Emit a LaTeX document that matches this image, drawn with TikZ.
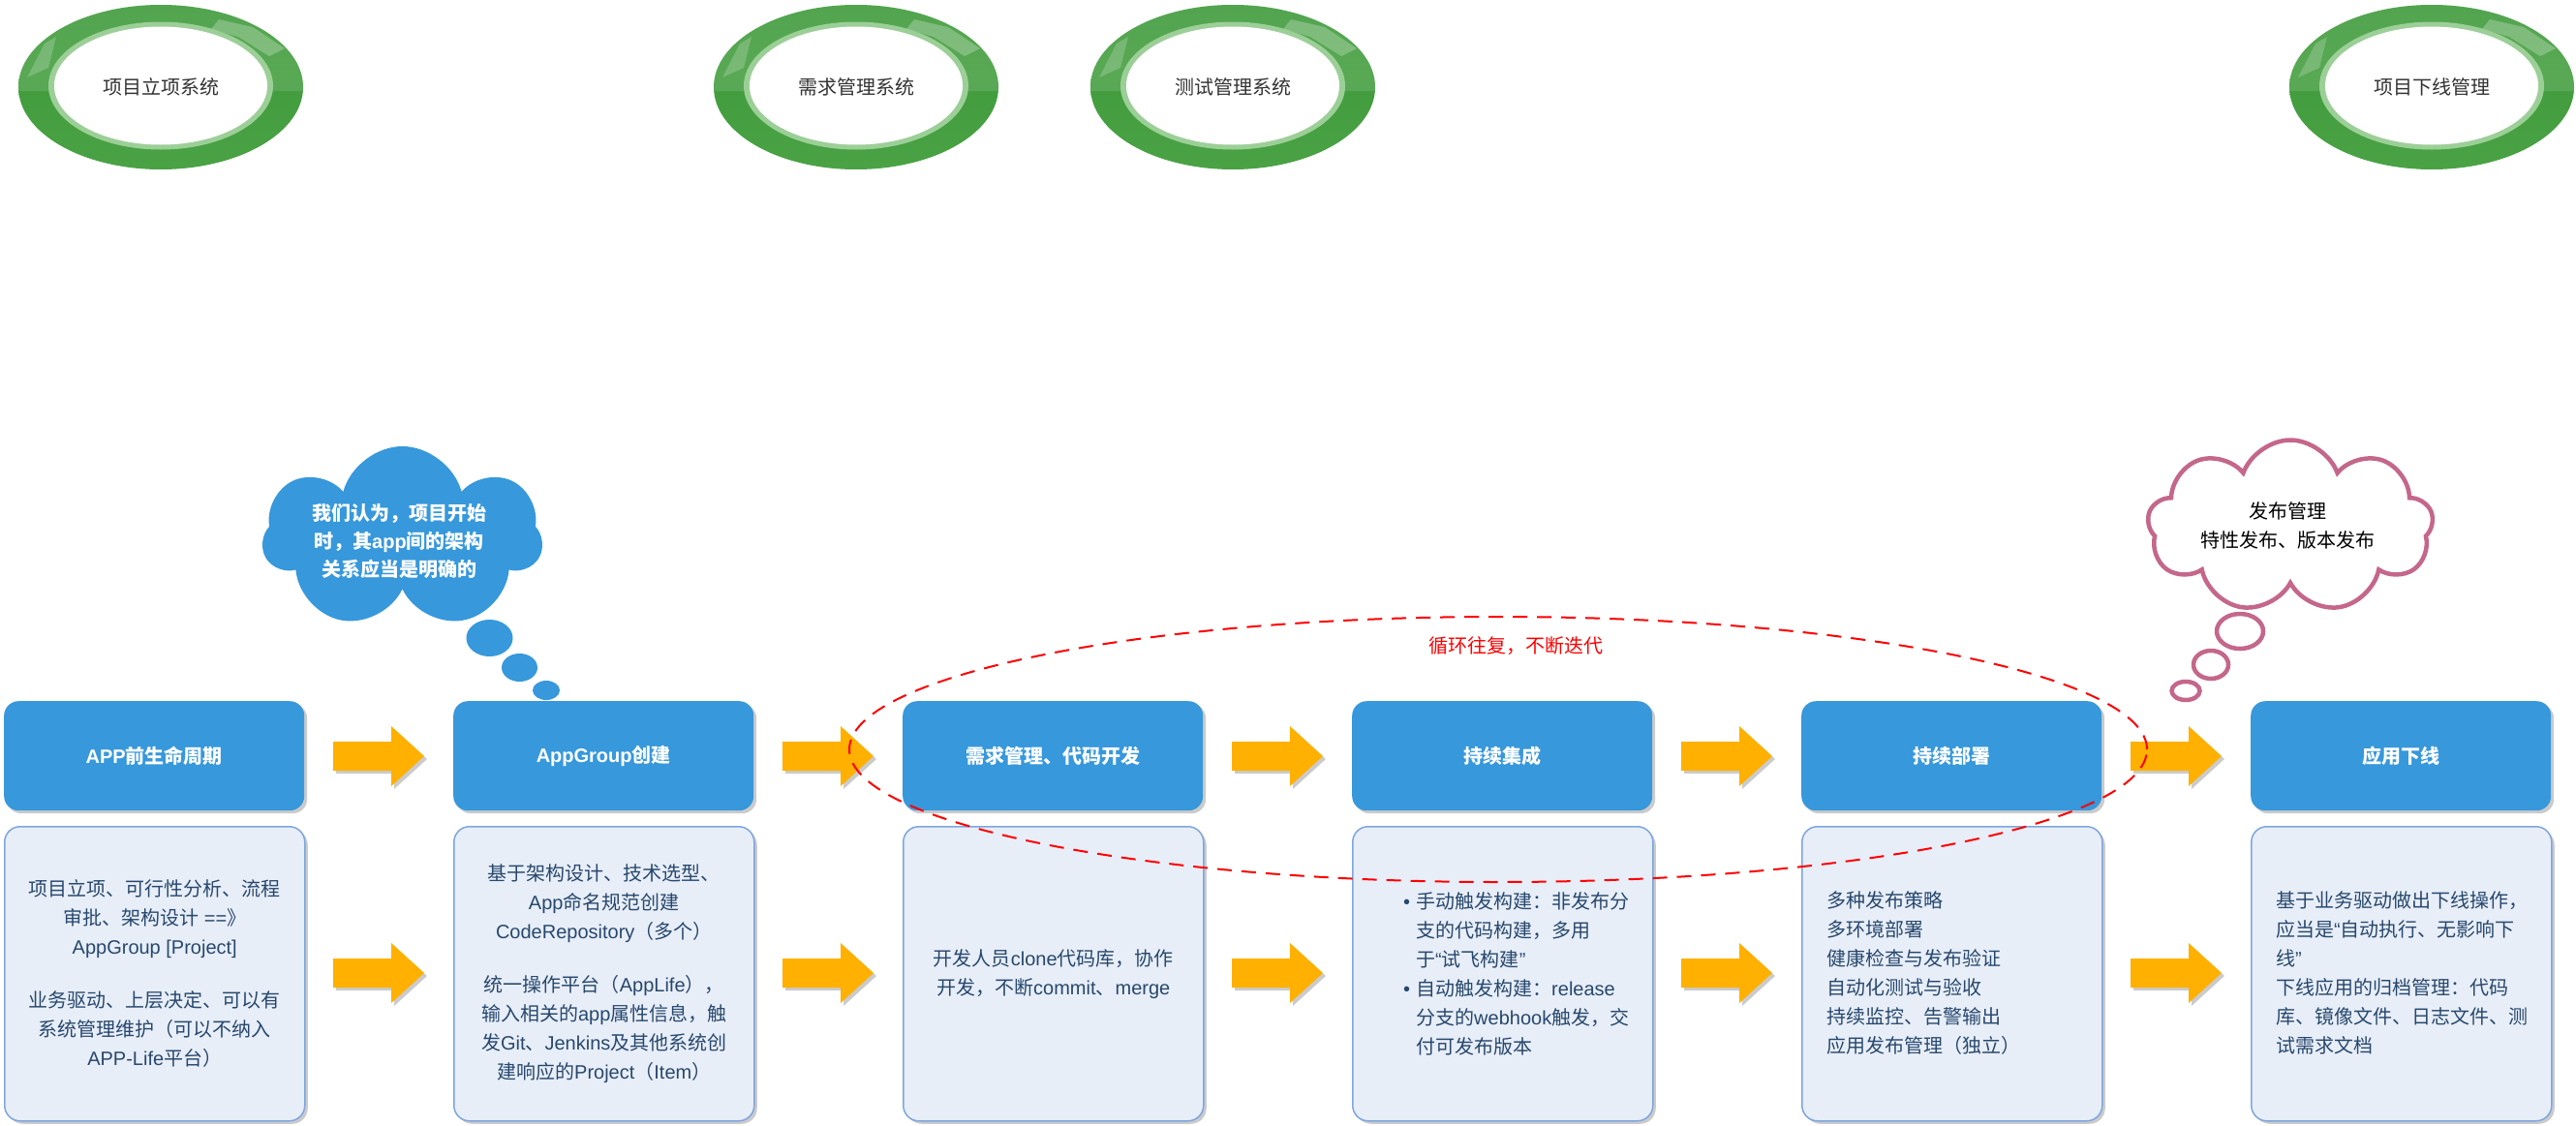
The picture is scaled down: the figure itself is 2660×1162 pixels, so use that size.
\documentclass[tikz,border=0pt]{standalone}
\usepackage{fontspec}
\setmainfont{Liberation Sans}
\newfontfamily\latfont{Liberation Sans}
\newfontfamily\cjkfont{Noto Sans CJK SC}
\usetikzlibrary{shapes.symbols,shadows}
% automatic switch between Latin and CJK fonts
\XeTeXinterchartokenstate=1
\newXeTeXintercharclass\CJKclass
\newcount\cjkcnt
\def\setcjkrange#1#2{\cjkcnt=#1\relax\loop\XeTeXcharclass\cjkcnt=\CJKclass\relax\ifnum\cjkcnt<#2\relax\advance\cjkcnt by 1\relax\repeat}
\setcjkrange{"3000}{"303F}
\setcjkrange{"4E00}{"9FFF}
\setcjkrange{"FF00}{"FFEF}
\XeTeXinterchartoks 0 \CJKclass = {\cjkfont}
\XeTeXinterchartoks 4095 \CJKclass = {\cjkfont}
\XeTeXinterchartoks \CJKclass 0 = {\latfont}
\XeTeXinterchartoks \CJKclass 4095 = {\latfont}

\definecolor{hdrblue}{HTML}{3798DB}
\definecolor{bodyfill}{HTML}{E8EEF8}
\definecolor{bodyline}{HTML}{7EA6E0}
\definecolor{bodytext}{HTML}{27486E}
\definecolor{arrowc}{HTML}{FFB000}
\definecolor{shadowc}{HTML}{CBCBCB}
\definecolor{pinkc}{HTML}{C4678A}
\definecolor{ringtop}{HTML}{3B9837}
\definecolor{ringmid}{HTML}{248822}
\definecolor{ringbot}{HTML}{4AA245}
\definecolor{ringlight}{HTML}{9CCF97}
\definecolor{ringtxt}{HTML}{333333}

\begin{document}
\begin{tikzpicture}[x=1pt,y=-1pt,
  hdr/.style={anchor=north west, fill=hdrblue, rounded corners=15pt,
    minimum width=310pt, minimum height=113pt, inner sep=0pt, text=white,
    font=\fontsize{20}{24}\selectfont\bfseries,
    drop shadow={shadow xshift=3pt, shadow yshift=-3pt, fill=shadowc, opacity=1}},
  bodybox/.style={anchor=north west, fill=bodyfill, draw=bodyline, line width=1.5pt,
    rounded corners=16pt, minimum width=310pt, minimum height=304pt, inner sep=0pt,
    drop shadow={shadow xshift=3pt, shadow yshift=-3pt, fill=shadowc, opacity=1}},
  bodytxt/.style={text=bodytext, font=\fontsize{20}{30}\selectfont, inner sep=0pt},
  pics/greenring/.style={code={
    \shade[top color=ringtop, middle color=ringmid, bottom color=ringbot]
      (0,0) ellipse [x radius=147pt, y radius=85pt];
    \begin{scope}
      \clip (0,0) ellipse [x radius=147pt, y radius=85pt];
      \fill[white, opacity=0.12, even odd rule] (-150,-90) rectangle (150,4)
        (0,-1.5) ellipse [x radius=116pt, y radius=66pt];
      \fill[white, opacity=0.25] (60,-70) -- (95,-62) -- (128,-40) -- (112,-32) -- (80,-52) -- (52,-60) -- cycle;
      \fill[white, opacity=0.2] (-120,-45) -- (-108,-52) -- (-116,-20) -- (-138,-10) -- cycle;
    \end{scope}
    \fill[ringlight] (0,-1.5) ellipse [x radius=116pt, y radius=66pt];
    \fill[white] (0,-1.5) ellipse [x radius=110pt, y radius=61pt];
    \node[text=ringtxt, font=\fontsize{20}{24}\selectfont, inner sep=0pt] (-t) at (0,0) {#1};
  }},
  pics/blkarrow/.style={code={
    \fill[shadowc, shift={(3,3)}] (0,-15) -- (60,-15) -- (60,-31) -- (94,0) -- (60,31) -- (60,15) -- (0,15) -- cycle;
    \fill[arrowc] (0,-15) -- (60,-15) -- (60,-31) -- (94,0) -- (60,31) -- (60,15) -- (0,15) -- cycle;
  }}
]
\useasboundingbox[fill=white] (0,0) rectangle (2660,1162);

% top systems
\pic (e1) at (166,90) {greenring={项目立项系统}};
\pic (e2) at (884,90) {greenring={需求管理系统}};
\pic (e3) at (1273,90) {greenring={测试管理系统}};
\pic (e4) at (2511,90) {greenring={项目下线管理}};

% blue thought cloud
\node[cloud, cloud puffs=7, cloud puff arc=150, aspect=1.5, fill=hdrblue, minimum width=289pt, minimum height=189pt, inner sep=0pt] (c1) at (415.5,555.5) {};
\node[text=white, font=\fontsize{20}{29}\selectfont\bfseries, align=center, inner sep=0pt] (c1t) at (412,559)
  {我们认为，项目开始\\时，其app间的架构\\关系应当是明确的};
\fill[hdrblue] (505.5,659) ellipse [x radius=24pt, y radius=19pt];
\fill[hdrblue] (536.5,689.5) ellipse [x radius=18.5pt, y radius=14.5pt];
\fill[hdrblue] (564,713) ellipse [x radius=14pt, y radius=10pt];

% pink thought cloud
\node[cloud, cloud puffs=9, cloud puff arc=140, aspect=1.6, draw=pinkc, line width=4.5pt, fill=white, minimum width=295pt, minimum height=178pt, inner sep=0pt] (c2) at (2365,543.5) {};
\node[text=black, font=\fontsize{20}{30}\selectfont, align=center, inner sep=0pt] (c2t) at (2362,543)
  {发布管理\\特性发布、版本发布};
\draw[pinkc, line width=4.5pt] (2313,652) ellipse [x radius=24pt, y radius=18pt];
\draw[pinkc, line width=4.5pt] (2283,686.5) ellipse [x radius=18pt, y radius=14.5pt];
\draw[pinkc, line width=4.5pt] (2257,713.5) ellipse [x radius=14.5pt, y radius=9.5pt];

% headers
\node[hdr] (h1) at (4,724) {APP前生命周期};
\node[hdr] (h2) at (468,724) {AppGroup创建};
\node[hdr] (h3) at (932,724) {需求管理、代码开发};
\node[hdr] (h4) at (1396,724) {持续集成};
\node[hdr] (h5) at (1860,724) {持续部署};
\node[hdr] (h6) at (2324,724) {应用下线};

% body boxes
\node[bodybox] (b1) at (4,853) {};
\node[bodybox] (b2) at (468,853) {};
\node[bodybox] (b3) at (932,853) {};
\node[bodybox] (b4) at (1396,853) {};
\node[bodybox] (b5) at (1860,853) {};
\node[bodybox] (b6) at (2324,853) {};

% arrows
\foreach \k in {0,...,4}{
  \pic (ta\k) at ({344+464*\k},781) {blkarrow};
  \pic (ba\k) at ({344+464*\k},1005) {blkarrow};
}

% body texts
\node[bodytxt, align=center] (t1) at (b1.center)
  {项目立项、可行性分析、流程\\审批、架构设计 ==》\\AppGroup [Project]\\[25pt]业务驱动、上层决定、可以有\\系统管理维护（可以不纳入\\APP-Life平台）};
\node[bodytxt, align=center] (t2) at (b2.center)
  {基于架构设计、技术选型、\\App命名规范创建\\CodeRepository（多个）\\[25pt]统一操作平台（AppLife），\\输入相关的app属性信息，触\\发Git、Jenkins及其他系统创\\建响应的Project（Item）};
\node[bodytxt, align=center] (t3) at (b3.center)
  {开发人员clone代码库，协作\\开发，不断commit、merge};
\node[bodytxt, align=left, anchor=west] (t4) at (1462,1006)
  {\llap{•\hspace{6pt}}手动触发构建：非发布分\\支的代码构建，多用\\于“试飞构建”\\\llap{•\hspace{6pt}}自动触发构建：release\\分支的webhook触发，交\\付可发布版本};
\node[bodytxt, align=left, anchor=west] (t5) at (1886,1005)
  {多种发布策略\\多环境部署\\健康检查与发布验证\\自动化测试与验收\\持续监控、告警输出\\应用发布管理（独立）};
\node[bodytxt, align=left, anchor=west] (t6) at (2350,1005)
  {基于业务驱动做出下线操作，\\应当是“自动执行、无影响下\\线”\\下线应用的归档管理：代码\\库、镜像文件、日志文件、测\\试需求文档};

% iteration loop
\draw[red, line width=2pt, dash pattern=on 15pt off 10pt] (1547,774) ellipse [x radius=670pt, y radius=137pt];
\node[text=red, font=\fontsize{20}{24}\selectfont, inner sep=0pt] (loop) at (1565,667) {循环往复，不断迭代};
\end{tikzpicture}
\end{document}
